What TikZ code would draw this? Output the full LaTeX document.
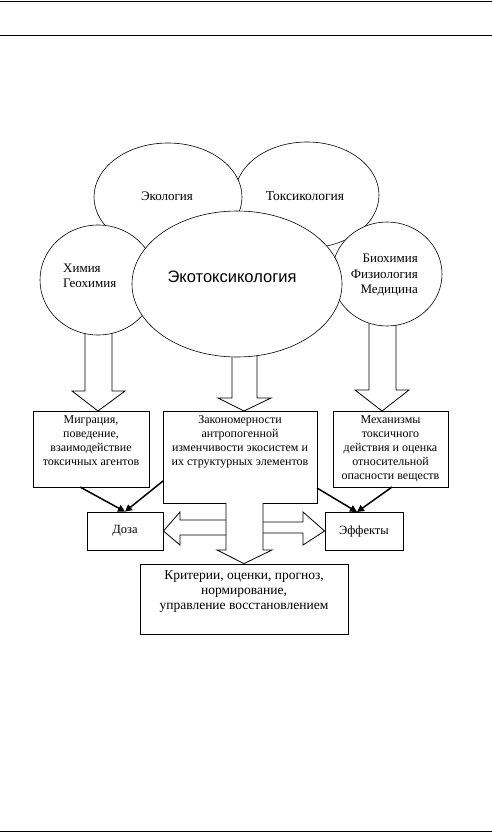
\documentclass[tikz,border=0pt]{standalone}
\usepackage{fontspec}
\setmainfont{Liberation Serif}
\newfontfamily\arialf{Liberation Sans}
\usetikzlibrary{shapes.geometric,arrows.meta,calc}
\begin{document}
\begin{tikzpicture}[x=1pt,y=-1pt,
 ell/.style={ellipse,draw,fill=white,inner sep=0pt,line width=0.6pt},
 box/.style={draw,line width=0.8pt,fill=white,inner sep=0pt},
 txt/.style={font=\fontsize{12}{14}\selectfont,align=center,inner sep=0pt},
 etxt/.style={font=\fontsize{13}{15.5}\selectfont,inner sep=0pt},
 barrow/.style={draw,fill=white,line width=0.8pt,line join=miter},
 thinarr/.style={line width=1.5pt,-{Triangle[length=7pt,width=7pt]}},
 rule/.style={line width=1pt}]
\useasboundingbox (0,0) rectangle (492,832);
% page rules
\draw[rule] (0,2) -- (492,2);
\draw[rule] (0,36) -- (492,36);
\draw[rule] (0,831) -- (492,831);
% block arrows from circles
\draw[barrow] (85,320) -- (85,391) -- (72,391) -- (98,411) -- (125,391) -- (112,391) -- (112,320) -- cycle;
\draw[barrow] (232,340) -- (232,398) -- (218,398) -- (244,411) -- (271,398) -- (257,398) -- (257,340) -- cycle;
\draw[barrow] (369,310) -- (369,390) -- (355,390) -- (382,411) -- (409,390) -- (396,390) -- (396,310) -- cycle;
% ellipses
\node[ell,minimum width=144pt,minimum height=106pt] (tox) at (307,195) {};
\node[ell,minimum width=148pt,minimum height=108pt] (eco) at (168,197) {};
\node[ell,minimum width=116pt,minimum height=110pt] (chem) at (98,280) {};
\node[ell,minimum width=110pt,minimum height=104pt] (bio) at (387,274) {};
\node[ell,minimum width=210pt,minimum height=146pt] (ecotox) at (237,284) {};
\node[etxt] (ecot) at (167,196) {Экология};
\node[etxt,font=\fontsize{13.5}{15.5}\selectfont] (toxt) at (305,196) {Токсикология};
\node[etxt,align=left,anchor=west] (chemt) at (63,276) {Химия\\Геохимия};
\node[etxt,align=right,anchor=east] (biot) at (418,275) {Биохимия\\Физиология\\Медицина};
\node[inner sep=0pt,font=\arialf\fontsize{16.5}{18}\selectfont] (ecotoxt) at (232,277) {Экотоксикология};
% boxes
\node[box,minimum width=116pt,minimum height=76pt] (lbox) at (91,449) {};
\node[box,minimum width=154pt,minimum height=92pt] (mbox) at (240,457) {};
\node[box,minimum width=115pt,minimum height=76pt] (rbox) at (390.5,449) {};
\node[txt,anchor=north] (lboxt) at (91,415.5) {Миграция,\\поведение,\\взаимодействие\\токсичных агентов};
\node[txt,anchor=north] (mboxt) at (240,415.5) {Закономерности\\антропогенной\\изменчивости экосистем и\\их структурных элементов};
\node[txt,anchor=north] (rboxt) at (390.5,415.5) {Механизмы\\токсичного\\действия и оценка\\относительной\\опасности веществ};
% lower boxes
\node[box,minimum width=76pt,minimum height=38pt,font=\fontsize{12.5}{14}\selectfont] (doza) at (125,531) {Доза};
\node[box,minimum width=78pt,minimum height=38pt,font=\fontsize{12.5}{14}\selectfont] (eff) at (364,531) {Эффекты};
\node[box,minimum width=208pt,minimum height=70pt] (crit) at (244,599) {};
\node[align=center,inner sep=0pt,font=\fontsize{13.5}{15}\selectfont,anchor=north] (critt) at (244,570) {Критерии, оценки, прогноз,\\нормирование,\\управление восстановлением};
% block arrows from middle box
\draw[barrow,fill=white] (226,520) -- (180,520) -- (180,512) -- (doza.east) -- (180,545) -- (180,535) -- (226,535);
\draw[barrow,fill=white] (263,522) -- (303,522) -- (303,512) -- (eff.west) -- (303,545) -- (303,533) -- (263,533);
\draw[barrow] (226,503) -- (226,550) -- (217,550) -- (crit.north) -- (272,550) -- (263,550) -- (263,503);
% thin arrows
\coordinate (t1) at (80,487);
\coordinate (t2) at (163,481);
\coordinate (t3) at (317,488);
\coordinate (t4) at (392,487);
\coordinate (e1) at (357,512);
\draw[thinarr] (t1) -- (doza.north);
\draw[thinarr] (t2) -- (doza.north);
\draw[thinarr] (t3) -- (e1);
\draw[thinarr] (t4) -- (e1);
\end{tikzpicture}
\end{document}
